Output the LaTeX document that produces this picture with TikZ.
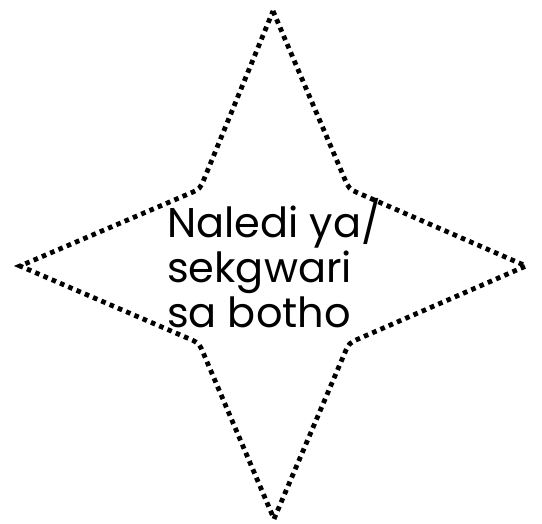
\documentclass[tikz,border=0pt]{standalone}
\usepackage{fontspec}
\setmainfont{Poppins}
\usetikzlibrary{calc}

\begin{document}
\begin{tikzpicture}[x=1pt,y=-1pt,
  starline/.style={line width=4.8pt,dash pattern=on 4.6pt off 4.4pt},
  caption/.style={font=\fontsize{41.5}{45.5}\selectfont,align=left,anchor=base west,inner sep=0pt}]
\useasboundingbox (0,0) rectangle (542,524);
% tips and inner corners
\coordinate (t) at (273,11);
\coordinate (b) at (274,519);
\coordinate (l) at (20,266);
\coordinate (r) at (526,266);
\coordinate (ul) at (200,189);
\coordinate (ur) at (349,189);
\coordinate (ll) at (199,343);
\coordinate (lr) at (349,343);
\draw[starline] (t) -- ($(ur)!12pt!(t)$) .. controls (ur) .. ($(ur)!12pt!(r)$)
  -- (r) -- ($(lr)!12pt!(r)$) .. controls (lr) .. ($(lr)!12pt!(b)$)
  -- (b) -- ($(ll)!12pt!(b)$) .. controls (ll) .. ($(ll)!12pt!(l)$)
  -- (l) -- ($(ul)!12pt!(l)$) .. controls (ul) .. ($(ul)!12pt!(t)$) -- (t);
\node[caption] (name) at (167,328) {Naledi ya/\\sekgwari\\sa botho};
\end{tikzpicture}
\end{document}
